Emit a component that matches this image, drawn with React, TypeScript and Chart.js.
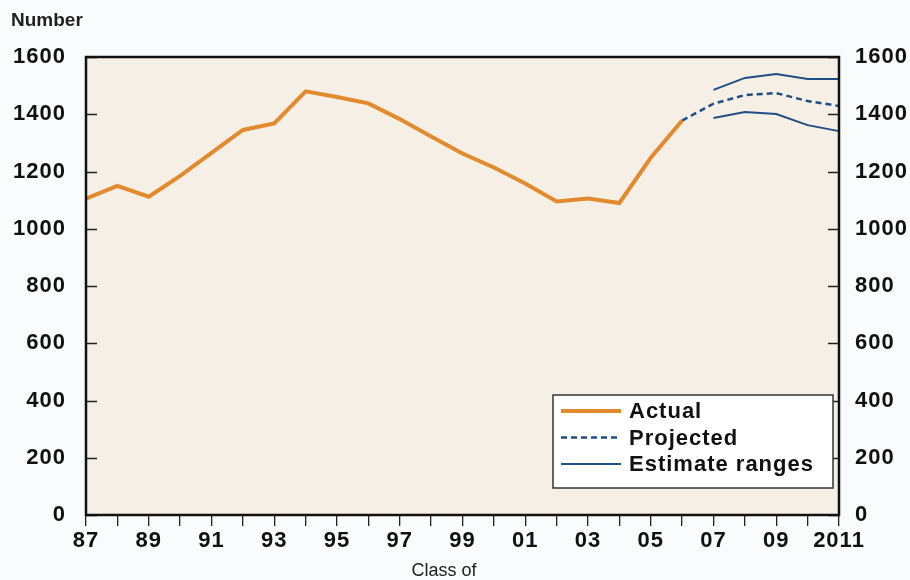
import React, { useEffect, useRef } from "react";
import { Chart, registerables } from "chart.js";

Chart.register(...registerables);

const years: number[] = [
  1987, 1988, 1989, 1990, 1991, 1992, 1993, 1994, 1995, 1996, 1997, 1998, 1999,
  2000, 2001, 2002, 2003, 2004, 2005, 2006, 2007, 2008, 2009, 2010, 2011,
];

// 1987–2006
const actual: (number | null)[] = [
  1105, 1150, 1112, 1185, 1265, 1345, 1368, 1480, 1460, 1438, 1383, 1322, 1263,
  1214, 1158, 1095, 1106, 1090, 1248, 1378,
  null, null, null, null, null,
];

// 2006–2011
const projected: (number | null)[] = [
  null, null, null, null, null, null, null, null, null, null, null, null, null,
  null, null, null, null, null, null, 1378,
  1437, 1467, 1474, 1446, 1429,
];

const estimateHigh: (number | null)[] = [
  null, null, null, null, null, null, null, null, null, null, null, null, null,
  null, null, null, null, null, null, null,
  1485, 1527, 1541, 1523, 1523,
];

const estimateLow: (number | null)[] = [
  null, null, null, null, null, null, null, null, null, null, null, null, null,
  null, null, null, null, null, null, null,
  1387, 1408, 1401, 1362, 1341,
];

const yTicks: number[] = [0, 200, 400, 600, 800, 1000, 1200, 1400, 1600];

const xLabel = (y: number) =>
  y === 2011 ? "2011" : String(y % 100).padStart(2, "0");

const FONT = "'Liberation Sans', Arial, sans-serif";
const ORANGE = "#E38A2F";
const BLUE = "#1F4E85";
const PLOT_BG = "#F5EFE5";
const PAGE_BG = "#FAFBFD";
const SPACING = "1px";
const FSIZE = 22;

const customPlugin = {
  id: "custom",
  beforeLayout(chart: any) {
    chart.ctx.letterSpacing = SPACING;
  },
  beforeDraw(chart: any) {
    const { ctx, chartArea: a } = chart;
    ctx.letterSpacing = SPACING;
    ctx.save();
    ctx.fillStyle = PLOT_BG;
    ctx.fillRect(a.left, a.top, a.right - a.left, a.bottom - a.top);
    ctx.restore();
  },
  afterDatasetsDraw(chart: any) {
    const { ctx, chartArea: a } = chart;
    const yS = chart.scales.y;
    ctx.save();
    // inner tick marks
    ctx.strokeStyle = "#222";
    ctx.lineWidth = 1.3;
    yTicks.forEach((v) => {
      const py = Math.round(yS.getPixelForValue(v)) + 0.5;
      ctx.beginPath();
      ctx.moveTo(a.left, py);
      ctx.lineTo(a.left + 11, py);
      ctx.moveTo(a.right, py);
      ctx.lineTo(a.right - 11, py);
      ctx.stroke();
    });
    // frame
    ctx.strokeStyle = "#111";
    ctx.lineWidth = 2.5;
    ctx.strokeRect(a.left, a.top, a.right - a.left, a.bottom - a.top);

    // legend
    const bx = a.right - 286;
    const by = a.bottom - 120;
    const bw = 280;
    const bh = 93;
    ctx.fillStyle = "#FFFFFF";
    ctx.fillRect(bx, by, bw, bh);
    ctx.strokeStyle = "#333";
    ctx.lineWidth = 1.5;
    ctx.strokeRect(bx, by, bw, bh);

    const seen = new Set<string>();
    const items: any[] = [];
    chart.data.datasets.forEach((ds: any) => {
      if (!seen.has(ds.label)) {
        seen.add(ds.label);
        items.push(ds);
      }
    });
    ctx.font = `bold ${FSIZE}px ${FONT}`;
    ctx.letterSpacing = SPACING;
    ctx.textBaseline = "middle";
    ctx.textAlign = "left";
    items.forEach((ds, i) => {
      const cy = by + 16 + i * 26.5;
      ctx.beginPath();
      ctx.strokeStyle = ds.borderColor;
      ctx.lineWidth = ds.borderWidth;
      ctx.setLineDash(ds.borderDash || []);
      ctx.moveTo(bx + 8, cy);
      ctx.lineTo(bx + 68, cy);
      ctx.stroke();
      ctx.setLineDash([]);
      ctx.fillStyle = "#111";
      ctx.fillText(ds.label, bx + 76, cy + 1);
    });
    ctx.restore();
  },
};

export default function App() {
  const ref = useRef<HTMLCanvasElement | null>(null);

  useEffect(() => {
    document.body.style.margin = "0";
    document.body.style.background = PAGE_BG;
    if (!ref.current) return;
    const tickFont = { family: FONT, size: FSIZE, weight: "bold" };
    const chart = new Chart(ref.current, {
      type: "line",
      data: {
        labels: years.map(String),
        datasets: [
          {
            label: "Actual",
            data: actual,
            borderColor: ORANGE,
            borderWidth: 4,
            pointRadius: 0,
            fill: false,
            tension: 0,
          },
          {
            label: "Projected",
            data: projected,
            borderColor: BLUE,
            borderWidth: 2.5,
            borderDash: [6, 4],
            pointRadius: 0,
            fill: false,
            tension: 0,
          },
          {
            label: "Estimate ranges",
            data: estimateHigh,
            borderColor: BLUE,
            borderWidth: 2,
            pointRadius: 0,
            fill: false,
            tension: 0,
          },
          {
            label: "Estimate ranges",
            data: estimateLow,
            borderColor: BLUE,
            borderWidth: 2,
            pointRadius: 0,
            fill: false,
            tension: 0,
          },
        ],
      },
      options: {
        responsive: false,
        animation: false,
        events: [],
        layout: { padding: { top: 57, left: 0, right: 0, bottom: 0 } },
        plugins: {
          legend: { display: false },
          tooltip: { enabled: false },
          title: { display: false },
        },
        scales: {
          x: {
            type: "category",
            offset: false,
            afterFit: (s: any) => {
              s.height = 65;
            },
            border: { display: false },
            grid: {
              display: true,
              drawOnChartArea: false,
              drawTicks: true,
              tickLength: 11,
              color: "#222",
              lineWidth: 1.3,
            },
            ticks: {
              autoSkip: false,
              maxRotation: 0,
              minRotation: 0,
              padding: 2,
              color: "#111",
              font: tickFont,
              callback: (_v: any, i: number) =>
                i % 2 === 0 ? xLabel(years[i]) : "",
            },
          },
          y: {
            type: "linear",
            position: "left",
            min: 0,
            max: 1600,
            afterFit: (s: any) => {
              s.width = 86;
            },
            afterBuildTicks: (s: any) => {
              s.ticks = yTicks.map((v) => ({ value: v }));
            },
            border: { display: false },
            grid: { display: false, drawTicks: false },
            ticks: {
              padding: 20,
              color: "#111",
              font: tickFont,
              callback: (v: any) => String(v),
            },
          },
          y2: {
            type: "linear",
            position: "right",
            min: 0,
            max: 1600,
            afterFit: (s: any) => {
              s.width = 71;
            },
            afterBuildTicks: (s: any) => {
              s.ticks = yTicks.map((v) => ({ value: v }));
            },
            border: { display: false },
            grid: { display: false, drawTicks: false },
            ticks: {
              padding: 16,
              color: "#111",
              font: tickFont,
              callback: (v: any) => String(v),
            },
          },
        },
      } as any,
      plugins: [customPlugin],
    });
    return () => chart.destroy();
  }, []);

  return (
    <div
      style={{
        position: "absolute",
        left: 0,
        top: 0,
        width: 910,
        height: 580,
        background: PAGE_BG,
        overflow: "hidden",
      }}
    >
      <canvas ref={ref} width={910} height={580} style={{ display: "block" }} />
      <div
        style={{
          position: "absolute",
          left: 11,
          top: 9,
          fontFamily: FONT,
          fontWeight: "bold",
          fontSize: 19,
          lineHeight: "21px",
          color: "#222",
        }}
      >
        Number
      </div>
      <div
        style={{
          position: "absolute",
          left: 444,
          top: 560,
          transform: "translateX(-50%)",
          fontFamily: FONT,
          fontSize: 18,
          lineHeight: "20px",
          color: "#222",
          whiteSpace: "nowrap",
        }}
      >
        Class of
      </div>
    </div>
  );
}
